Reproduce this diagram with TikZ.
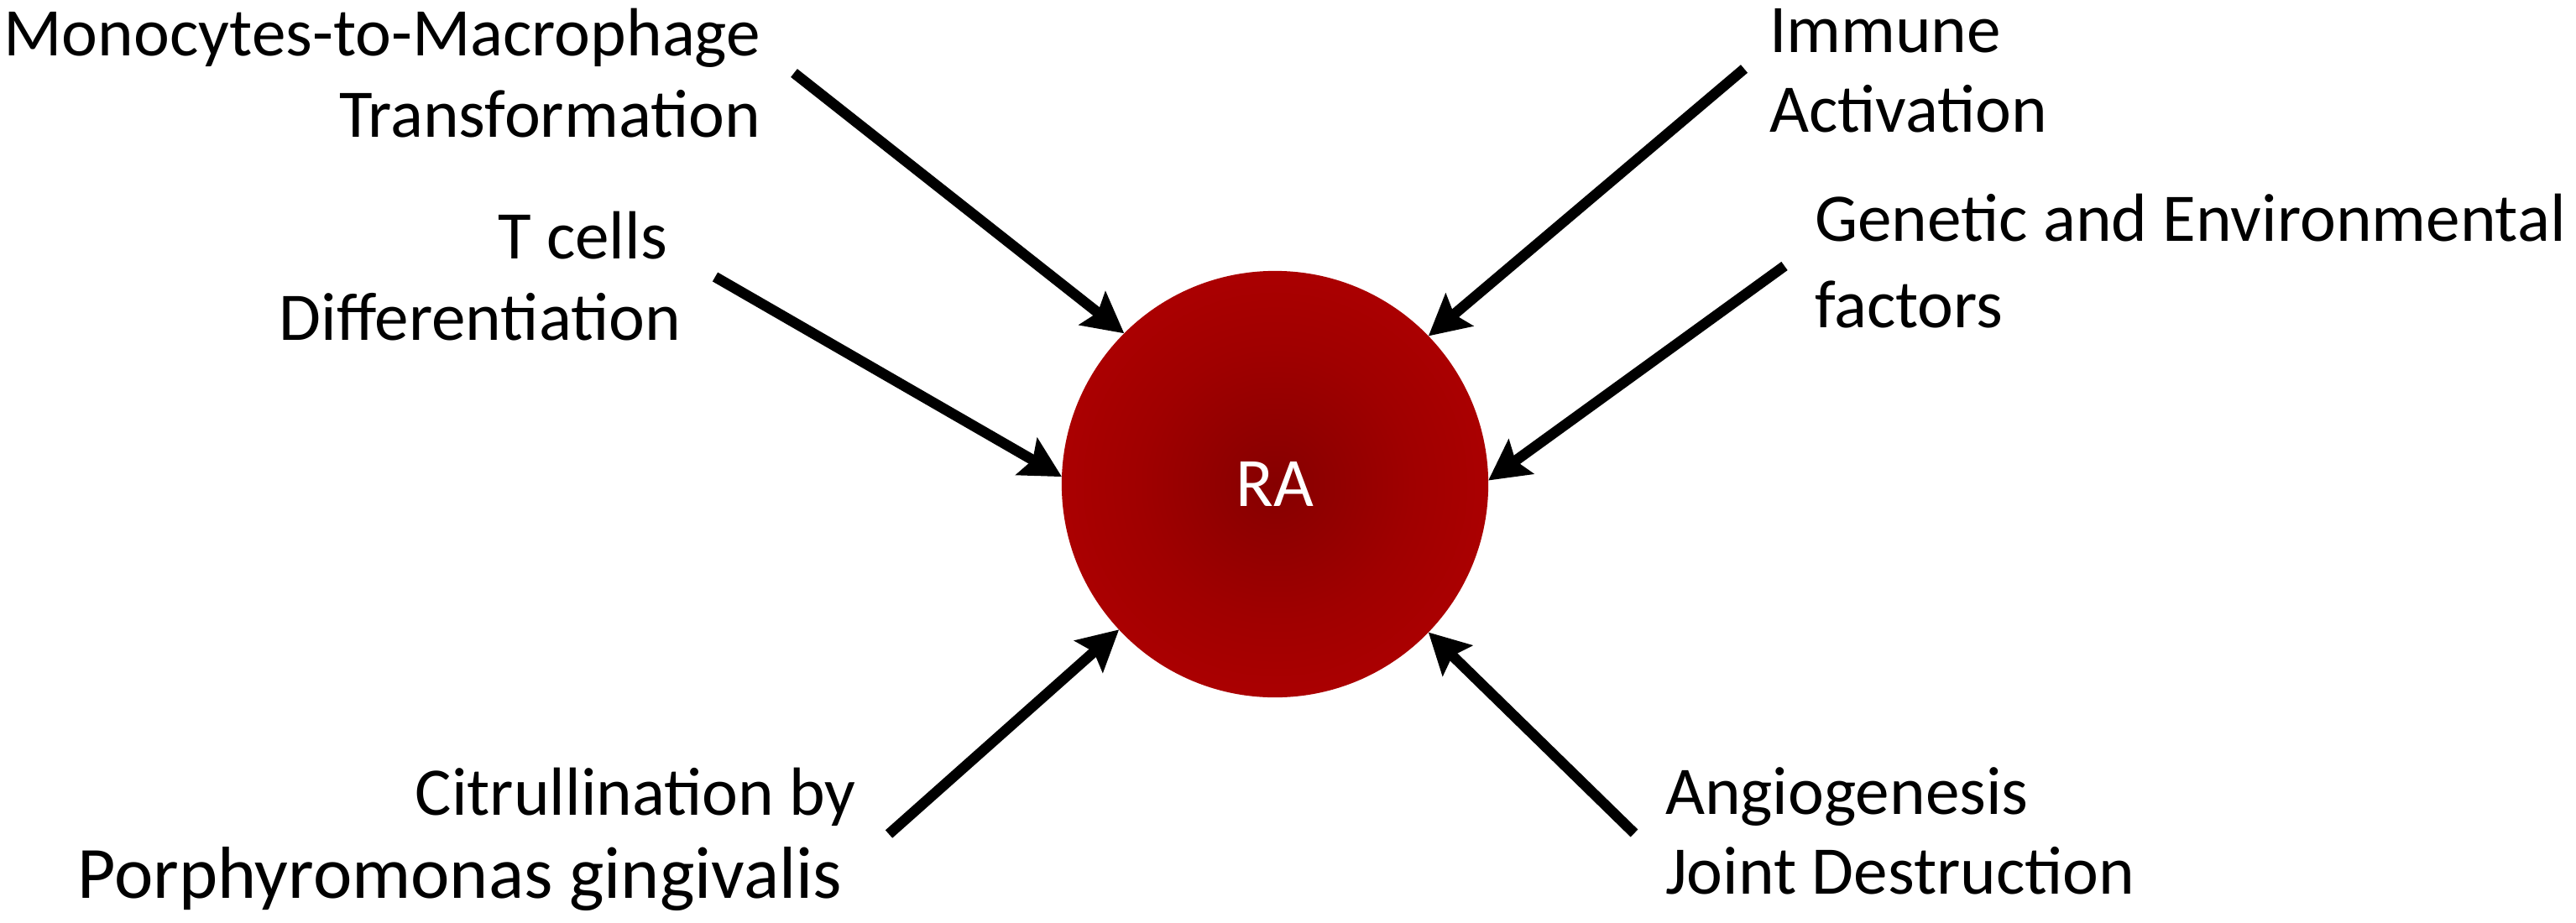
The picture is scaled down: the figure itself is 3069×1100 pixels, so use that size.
\documentclass[tikz,border=0pt]{standalone}
\usepackage{fontspec}
\setmainfont{Carlito}
\usetikzlibrary{arrows.meta}
\definecolor{racore}{RGB}{134,0,0}
\definecolor{ramid}{RGB}{160,0,0}
\definecolor{raedge}{RGB}{190,0,2}
\pgfdeclareradialshading{rashade}{\pgfpoint{0bp}{0bp}}{color(0bp)=(racore); color(16bp)=(ramid); color(42bp)=(raedge); color(50bp)=(raedge)}
\tikzset{
  lbl/.style={inner sep=0pt, outer sep=0pt, font=\fontsize{23.1pt}{27pt}\selectfont, text=black},
  lblbig/.style={lbl, font=\fontsize{25pt}{30pt}\selectfont},
  feed/.style={line width=0.125cm, draw=black, -{Stealth[length=0.48cm, width=0.5cm, inset=0.08cm]}},
  hub/.style={circle, inner sep=0pt, outer sep=0pt, minimum size=5.08cm, shading=rashade,
    text=white, font=\fontsize{23.5pt}{27pt}\selectfont}
}
\begin{document}
\begin{tikzpicture}[x=0.01cm, y=-0.01cm]
\useasboundingbox (0,0) rectangle (3069,1100);
\node[hub] (ra) at (1519,577) {RA};

\node[lbl, anchor=base east] (mono1) at (906,67) {Monocytes-to-Macrophage};
\node[lbl, anchor=base east] (mono2) at (906,163) {Transformation};
\node[lbl, anchor=base east] (tcell1) at (795,308) {T cells};
\node[lbl, anchor=base east] (tcell2) at (811,405) {Differentiation};
\node[lbl, anchor=base west] (imm1) at (2108,62) {Immune};
\node[lbl, anchor=base west] (imm2) at (2108,157) {Activation};
\node[lbl, anchor=base west] (gen1) at (2162,287) {Genetic and Environmental};
\node[lbl, anchor=base west] (gen2) at (2162,390) {factors};
\node[lbl, anchor=base east] (cit1) at (1020,971) {Citrullination by};
\node[lblbig, anchor=base east] (cit2) at (1003,1070) {Porphyromonas gingivalis};
\node[lbl, anchor=base west] (ang1) at (1984,970) {Angiogenesis};
\node[lbl, anchor=base west] (ang2) at (1984,1065) {Joint Destruction};

\coordinate (smono) at (946,87);
\coordinate (stcell) at (852,330);
\coordinate (simm) at (2078,82);
\coordinate (sgen) at (2126,317);
\coordinate (scit) at (1059,994);
\coordinate (sang) at (1947,993);

\draw[feed] (smono) -- (ra.135.6);
\draw[feed] (stcell) -- (ra.178.9);
\draw[feed] (simm) -- (ra.44.4);
\draw[feed] (sgen) -- (ra.1.1);
\draw[feed] (scit) -- (ra.223.7);
\draw[feed] (sang) -- (ra.316.5);
\end{tikzpicture}
\end{document}
